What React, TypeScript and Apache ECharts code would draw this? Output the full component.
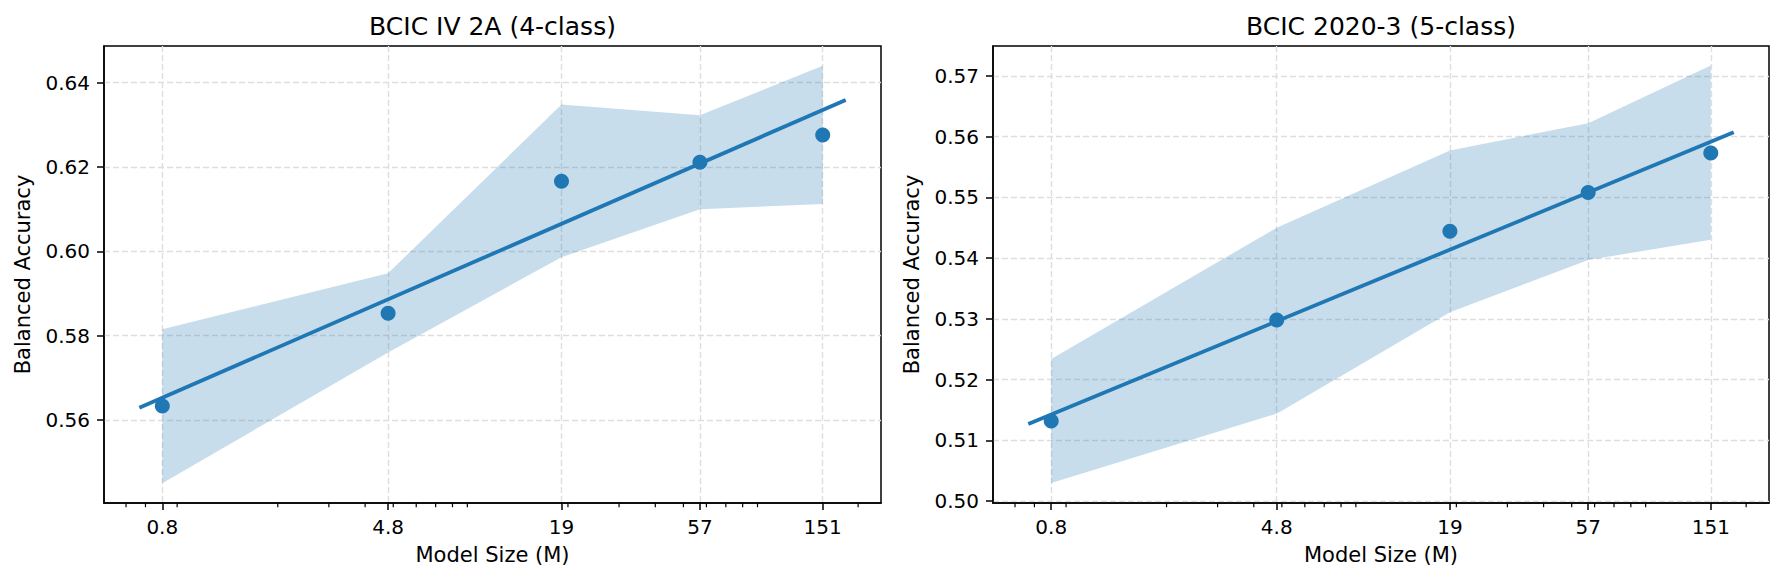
import React, { useEffect, useRef } from "react";
import * as echarts from "echarts";

// Model sizes (millions of parameters) on a log axis
const modelSizes = [0.8, 4.8, 19, 57, 151];
const sizeTickLabels = [0.8, 4.8, 19, 57, 151];
const sizeMinorTicks = [0.6, 0.7, 0.9, 2, 3, 4, 5, 6, 7, 8, 9, 20, 30, 40, 50, 60, 70, 80, 90, 200];
const sizeAxisRange = [0.5037, 239.8];

// BCIC IV 2A (4-class)
const iv2aMean = [0.5633, 0.5853, 0.6166, 0.6211, 0.6276];
const iv2aUpper = [0.5815, 0.5948, 0.6348, 0.6323, 0.644];
const iv2aLower = [0.545, 0.576, 0.5986, 0.61, 0.6112];
const iv2aFitX = [0.6667, 181.2];
const iv2aFitY = [0.5629, 0.6359];
const iv2aYTicks = [0.56, 0.58, 0.6, 0.62, 0.64];
const iv2aYRange = [0.5403, 0.6487];

// BCIC 2020-3 (5-class)
const c2020Mean = [0.5132, 0.5298, 0.5444, 0.5508, 0.5573];
const c2020Upper = [0.5234, 0.545, 0.5577, 0.5622, 0.5717];
const c2020Lower = [0.503, 0.5144, 0.5311, 0.5397, 0.543];
const c2020FitX = [0.6667, 181.2];
const c2020FitY = [0.5127, 0.5607];
const c2020YTicks = [0.5, 0.51, 0.52, 0.53, 0.54, 0.55, 0.56, 0.57];
const c2020YRange = [0.4997, 0.5749];

const FONT = "DejaVu Sans";
const BLUE = "#1f77b4";
const BAND = "rgba(31,119,180,0.25)";
const GRID_LINE = { color: "#dedede", width: 1.4, type: [6, 3] as number[] };

type Panel = {
  title: string;
  mean: number[];
  upper: number[];
  lower: number[];
  fitX: number[];
  fitY: number[];
  yTicks: number[];
  yRange: number[];
  splitNumber: number;
  left: number;
  width: number;
};

const panels: Panel[] = [
  {
    title: "BCIC IV 2A (4-class)",
    mean: iv2aMean,
    upper: iv2aUpper,
    lower: iv2aLower,
    fitX: iv2aFitX,
    fitY: iv2aFitY,
    yTicks: iv2aYTicks,
    yRange: iv2aYRange,
    splitNumber: 5,
    left: 104,
    width: 777,
  },
  {
    title: "BCIC 2020-3 (5-class)",
    mean: c2020Mean,
    upper: c2020Upper,
    lower: c2020Lower,
    fitX: c2020FitX,
    fitY: c2020FitY,
    yTicks: c2020YTicks,
    yRange: c2020YRange,
    splitNumber: 8,
    left: 993,
    width: 776,
  },
];

const GRID_TOP = 46;
const GRID_HEIGHT = 457;

function buildOption() {
  const grid: any[] = [];
  const xAxis: any[] = [];
  const yAxis: any[] = [];
  const series: any[] = [];
  const graphic: any[] = [];

  panels.forEach((p, i) => {
    grid.push({
      left: p.left,
      top: GRID_TOP,
      width: p.width,
      height: GRID_HEIGHT,
      show: true,
      borderColor: "#000",
      borderWidth: 1.5,
      backgroundColor: "transparent",
      containLabel: false,
    });

    xAxis.push({
      type: "log",
      logBase: 10,
      gridIndex: i,
      min: sizeAxisRange[0],
      max: sizeAxisRange[1],
      name: "Model Size (M)",
      nameLocation: "middle",
      nameGap: 41,
      nameTextStyle: { fontFamily: FONT, fontSize: 21, color: "#000" },
      axisLine: { show: true, onZero: false, lineStyle: { color: "#000", width: 1.5 } },
      axisTick: {
        show: true,
        inside: false,
        length: 7,
        customValues: sizeTickLabels,
        lineStyle: { color: "#000", width: 1.5 },
      },
      minorTick: { show: false },
      axisLabel: {
        show: true,
        customValues: sizeTickLabels,
        margin: 14,
        fontFamily: FONT,
        fontSize: 20,
        color: "#000",
        formatter: (v: number) => String(+Number(v).toPrecision(3)),
      },
      splitLine: { show: true, lineStyle: GRID_LINE },
    });

    yAxis.push({
      type: "value",
      gridIndex: i,
      min: p.yRange[0],
      max: p.yRange[1],
      splitNumber: p.splitNumber,
      name: "Balanced Accuracy",
      nameLocation: "middle",
      nameGap: 71,
      nameTextStyle: { fontFamily: FONT, fontSize: 21, color: "#000" },
      axisLine: { show: true, onZero: false, lineStyle: { color: "#000", width: 1.5 } },
      axisTick: {
        show: true,
        inside: false,
        length: 7,
        customValues: p.yTicks,
        lineStyle: { color: "#000", width: 1.5 },
      },
      axisLabel: {
        show: true,
        customValues: p.yTicks,
        margin: 14,
        fontFamily: FONT,
        fontSize: 20,
        color: "#000",
        formatter: (v: number) => Number(v).toFixed(2),
      },
      splitLine: { show: true, lineStyle: GRID_LINE },
    });

    // shaded min–max band, drawn as one polygon through the axis scales
    const upper = p.upper;
    const lower = p.lower;
    series.push({
      type: "custom",
      xAxisIndex: i,
      yAxisIndex: i,
      silent: true,
      clip: true,
      z: 1,
      data: modelSizes.map((s, k) => [s, lower[k], upper[k]]),
      encode: { x: 0, y: [1, 2] },
      renderItem: (params: any, api: any) => {
        if (params.dataIndex !== 0) return null;
        const top = modelSizes.map((s, k) => api.coord([s, upper[k]]));
        const bottom = modelSizes.map((s, k) => api.coord([s, lower[k]])).reverse();
        return {
          type: "polygon",
          shape: { points: top.concat(bottom) },
          style: { fill: BAND, stroke: "none" },
        };
      },
    });

    // log-axis minor ticks
    series.push({
      type: "custom",
      xAxisIndex: i,
      yAxisIndex: i,
      silent: true,
      clip: false,
      z: 5,
      data: sizeMinorTicks.map((s) => [s, p.yRange[0]]),
      encode: { x: 0, y: 1 },
      renderItem: (params: any, api: any) => {
        const pt = api.coord([api.value(0), api.value(1)]);
        return {
          type: "line",
          shape: { x1: pt[0], y1: pt[1], x2: pt[0], y2: pt[1] + 4.2 },
          style: { stroke: "#000", lineWidth: 1.2 },
        };
      },
    });

    // log-linear fit
    series.push({
      type: "line",
      xAxisIndex: i,
      yAxisIndex: i,
      silent: true,
      z: 3,
      showSymbol: false,
      symbol: "none",
      data: p.fitX.map((x, k) => [x, p.fitY[k]]),
      lineStyle: { color: BLUE, width: 3.8 },
    });

    // mean balanced accuracy per model size
    series.push({
      type: "scatter",
      xAxisIndex: i,
      yAxisIndex: i,
      silent: true,
      z: 4,
      symbol: "circle",
      symbolSize: 15,
      data: modelSizes.map((s, k) => [s, p.mean[k]]),
      itemStyle: { color: BLUE, opacity: 1 },
    });

    graphic.push({
      type: "text",
      x: p.left + p.width / 2,
      y: 26,
      style: {
        text: p.title,
        fontFamily: FONT,
        fontSize: 25,
        fill: "#000",
        textAlign: "center",
        textVerticalAlign: "middle",
      },
    });
  });

  return {
    animation: false,
    backgroundColor: "#fff",
    textStyle: { fontFamily: FONT },
    grid,
    xAxis,
    yAxis,
    series,
    graphic,
  };
}

export default function App() {
  const ref = useRef<HTMLDivElement>(null);

  useEffect(() => {
    document.body.style.margin = "0";
    if (!ref.current) return;
    const chart = echarts.init(ref.current, undefined, { renderer: "svg" });
    chart.setOption(buildOption() as any);
    return () => {
      chart.dispose();
    };
  }, []);

  return <div ref={ref} style={{ width: 1785, height: 582, background: "#fff" }} />;
}
